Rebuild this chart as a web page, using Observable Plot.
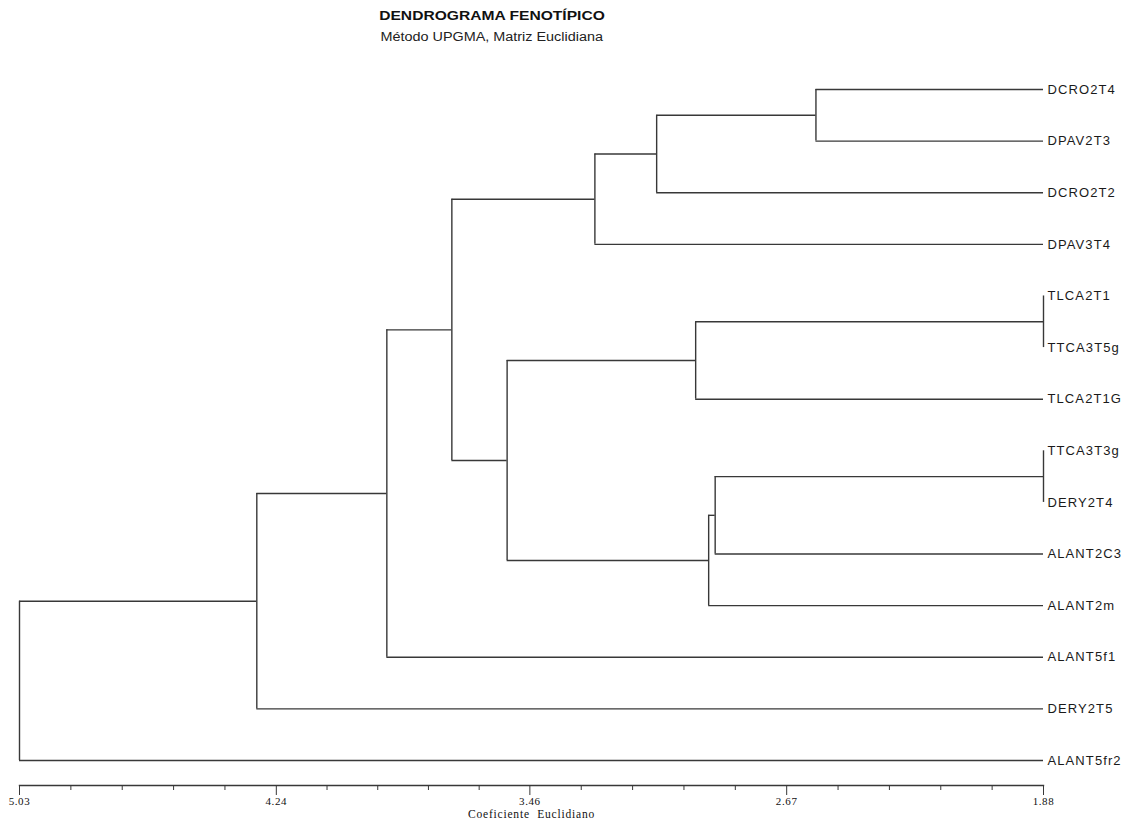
<!DOCTYPE html>
<html>
<head>
<meta charset="utf-8">
<script src="https://cdn.jsdelivr.net/npm/d3@7"></script>
<script src="https://cdn.jsdelivr.net/npm/@observablehq/plot@0.6"></script>
<style>
  body { margin: 0; background: #fff; }
  #wrap { position: relative; width: 1129px; height: 826px; background: #fff; }
  .head { position: absolute; left: 0; width: 984px; text-align: center; }
  .head span { display: inline-block; transform: scaleX(1.2); transform-origin: center; }
  #title { top: 8px; font: bold 13px "Liberation Sans", Arial, sans-serif; color: #111; }
  #subtitle { top: 30px; font: 12px "Liberation Sans", Arial, sans-serif; color: #222; }
  #chart { position: absolute; left: 0; top: 60px; }
  .leaf text { letter-spacing: 1.1px; }
  .ticklab text { letter-spacing: 0.6px; }
  .axtitle text { letter-spacing: 0.8px; }
</style>
</head>
<body>
<div id="wrap">
  <div id="title" class="head"><span></span></div>
  <div id="subtitle" class="head"><span></span></div>
  <div id="chart"></div>
</div>
<script>
// ---- data ----
const titleText = "DENDROGRAMA FENOTÍPICO";
const subtitleText = "Método UPGMA, Matriz Euclidiana";
const axisTitle = "Coeficiente  Euclidiano";

// leaves, top to bottom
const leaves = ["DCRO2T4", "DPAV2T3", "DCRO2T2", "DPAV3T4", "TLCA2T1", "TTCA3T5g", "TLCA2T1G",
                "TTCA3T3g", "DERY2T4", "ALANT2C3", "ALANT2m", "ALANT5f1", "DERY2T5", "ALANT5fr2"];
// merge steps (new node ids continue after the leaves: 14, 15, ...)
const mergeA = [0, 14, 15, 4, 17, 7, 19, 20, 18, 16, 23, 24, 25];
const mergeB = [1, 2, 3, 5, 6, 8, 9, 10, 21, 22, 11, 12, 13];
const mergeHeight = [2.58, 3.07, 3.26, 1.88, 2.95, 1.88, 2.89, 2.91, 3.53, 3.70, 3.90, 4.30, 5.03];
const leafHeight = 1.88;
const majorTicks = [5.03, 4.24, 3.46, 2.67, 1.88];

document.querySelector("#title span").textContent = titleText;
document.querySelector("#subtitle span").textContent = subtitleText;

// ---- build dendrogram segments ----
const nodeY = leaves.map((_, i) => i);
const nodeH = leaves.map(() => leafHeight);
const verticals = [], horizontals = [];
mergeA.forEach((a, k) => {
  const b = mergeB[k], h = mergeHeight[k];
  verticals.push({x: h, y1: nodeY[a], y2: nodeY[b]});
  horizontals.push({y: nodeY[a], x1: nodeH[a], x2: h});
  horizontals.push({y: nodeY[b], x1: nodeH[b], x2: h});
  nodeY.push((nodeY[a] + nodeY[b]) / 2);
  nodeH.push(h);
});
const minorTicks = d3.range(majorTicks.length - 1).flatMap(i =>
  d3.range(1, 5).map(j => majorTicks[i] + (majorTicks[i + 1] - majorTicks[i]) * j / 5));

const lineColor = "#383838";
const chart = Plot.plot({
  width: 1129,
  height: 766,
  marginLeft: 19,
  marginRight: 86,
  marginTop: 29,
  marginBottom: 41,
  x: {domain: [majorTicks[0], majorTicks[majorTicks.length - 1]]},
  y: {domain: [0, leaves.length - 1], range: [29, 700], axis: null},
  style: {background: "white", overflow: "visible", color: "#222"},
  marks: [
    Plot.ruleY(horizontals, {y: "y", x1: "x1", x2: "x2", stroke: lineColor, strokeWidth: 1.4}),
    Plot.ruleX(verticals, {x: "x", y1: "y1", y2: "y2", stroke: lineColor, strokeWidth: 1.4}),
    Plot.text(leaves, {x: () => leafHeight, y: (d, i) => i, text: d => d, textAnchor: "start",
      dx: 4, fontSize: 13, fontFamily: "'Liberation Sans', Arial, sans-serif", fill: "#1a1a1a", className: "leaf"}),
    Plot.frame({anchor: "bottom", stroke: lineColor, strokeWidth: 1.4}),
    Plot.axisX(majorTicks, {tickSize: 10, tickPadding: 2, tickFormat: d => d.toFixed(2), label: null,
      fontFamily: "'Liberation Serif', serif", fontSize: 11, stroke: lineColor, fill: "#111", className: "ticklab"}),
    Plot.axisX(minorTicks, {tickSize: 5, tickFormat: () => "", label: null, stroke: lineColor}),
    Plot.text([axisTitle], {frameAnchor: "bottom", dy: 32, text: d => d,
      fontFamily: "'Liberation Serif', serif", fontSize: 11.5, fill: "#111", className: "axtitle"})
  ]
});
document.getElementById("chart").appendChild(chart);
</script>
</body>
</html>
